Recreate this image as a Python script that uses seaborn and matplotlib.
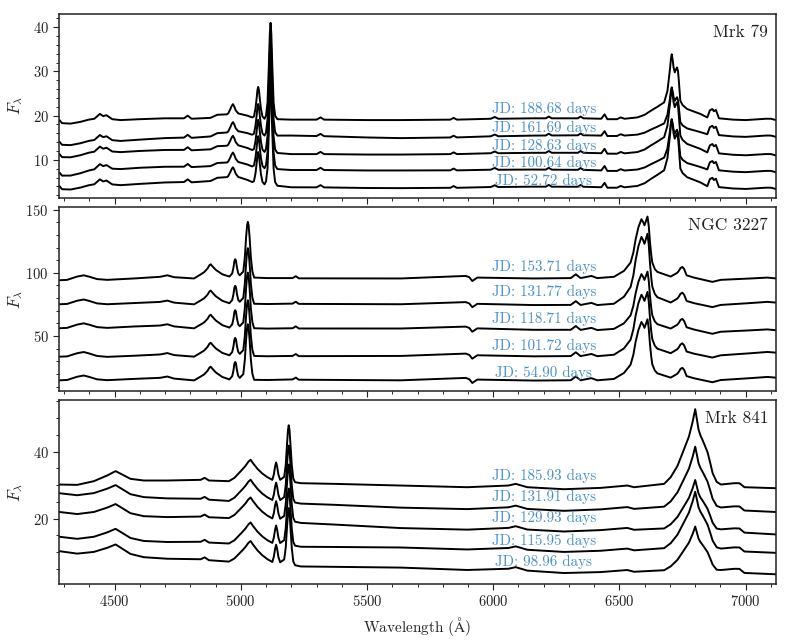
import numpy as np
import pandas as pd
import matplotlib
matplotlib.use("Agg")
import matplotlib.pyplot as plt
import seaborn as sns
from matplotlib.ticker import AutoMinorLocator, MultipleLocator

# ---------------- data ----------------
# --- Mrk 79: traced spectrum of the top epoch
mrk79_wl = [4282, 4292, 4326, 4365, 4398, 4420, 4442, 4455, 4468, 4491, 4524, 4600,
            4700, 4775, 4790, 4805, 4880, 4907, 4945, 4950, 4958, 4964, 4969, 4974,
            4980, 4990, 5026, 5045, 5052, 5058, 5063, 5066, 5069, 5072, 5075, 5080,
            5086, 5094, 5100, 5106, 5111, 5115, 5118, 5121, 5125, 5130, 5136, 5145,
            5200, 5300, 5316, 5330, 5500, 5633, 5830, 5843, 5856, 5990, 6006, 6020,
            6160, 6208, 6220, 6232, 6335, 6346, 6357, 6428, 6441, 6452, 6490, 6505,
            6520, 6571, 6600, 6624, 6650, 6677, 6690, 6700, 6704, 6707, 6711, 6714,
            6719, 6724, 6728, 6732, 6735, 6741, 6750, 6768, 6820, 6848, 6858, 6868,
            6874, 6882, 6894, 6950, 7000, 7080, 7100, 7120]
mrk79_top = [19.0, 18.3, 18.2, 18.6, 19.1, 19.3, 20.4, 19.9, 20.1, 19.2, 19.0, 19.2,
             19.4, 19.4, 20.0, 19.3, 19.5, 20.2, 20.3, 20.5, 21.4, 22.2, 22.6, 22.1,
             21.2, 20.5, 20.0, 19.6, 19.8, 21.5, 24.0, 25.8, 26.5, 25.8, 24.0, 21.5,
             19.8, 19.3, 20.0, 23.0, 31.0, 38.5, 41.0, 38.5, 31.0, 23.0, 20.0, 19.2,
             19.1, 19.1, 19.6, 19.1, 19.0, 19.0, 19.1, 19.5, 19.1, 19.3, 19.7, 19.3,
             19.4, 19.4, 19.8, 19.4, 19.4, 19.8, 19.4, 19.3, 20.3, 19.2, 19.2, 19.6,
             19.3, 19.6, 20.2, 21.1, 22.0, 23.0, 25.6, 30.5, 33.0, 33.9, 32.5, 31.0,
             29.8, 30.5, 30.9, 30.0, 28.0, 23.4, 22.4, 21.5, 20.4, 19.6, 21.2, 21.5,
             21.0, 21.3, 19.4, 19.1, 19.0, 19.3, 19.3, 19.0]
mrk79_anchor_wl = [4282, 4550, 4950, 5200, 5650, 6450, 7120]
mrk79_cont = [
    [18.9, 19.0, 20.2, 19.1, 19.0, 19.3, 19.0],
    [14.0, 14.3, 16.1, 15.5, 14.9, 15.5, 15.2],
    [11.2, 11.8, 13.1, 11.3, 11.2, 11.5, 11.0],
    [7.0, 8.0, 9.3, 7.7, 7.6, 7.6, 7.2],
    [3.95, 4.3, 6.0, 3.8, 3.6, 3.8, 3.4],
]
mrk79_ha_window = [6540, 6840]
mrk79_ha_scale = [1.0, 0.75, 1.0, 0.8, 1.05]
mrk79_epochs = ["188.68", "161.69", "128.63", "100.64", "52.72"]
mrk79_label_y = [21.6, 17.3, 13.2, 9.4, 5.3]

# --- NGC 3227
ngc_wl = [4282, 4312, 4352, 4378, 4398, 4431, 4471, 4577, 4680, 4709, 4736, 4815,
          4842, 4855, 4868, 4876, 4881, 4886, 4901, 4927, 4955, 4966, 4971, 4975,
          4978, 4981, 4985, 4990, 4996, 5010, 5016, 5021, 5025, 5028, 5031, 5035,
          5040, 5046, 5053, 5106, 5205, 5218, 5230, 5634, 5891, 5905, 5917, 5937,
          6161, 6307, 6327, 6346, 6389, 6412, 6478, 6518, 6544, 6555, 6564, 6575,
          6587, 6594, 6599, 6605, 6611, 6616, 6621, 6626, 6630, 6640, 6650, 6703,
          6729, 6735, 6742, 6749, 6756, 6766, 6795, 6868, 6901, 7020, 7086, 7120]
ngc_top = [94.1, 94.4, 97.0, 98.0, 97.0, 95.0, 94.4, 95.5, 96.8, 98.0, 96.5, 95.5,
           98.8, 100.5, 103.3, 106.0, 106.7, 105.5, 102.3, 98.8, 97.0, 99.5, 104.0, 109.5,
           110.7, 109.5, 104.0, 99.5, 98.0, 101.0, 112.0, 128.0, 137.5, 140.3, 137.5, 128.0,
           112.0, 101.0, 96.2, 95.8, 95.8, 97.3, 95.6, 95.5, 97.5, 96.5, 93.5, 96.2,
           95.5, 95.8, 98.8, 95.8, 97.5, 95.8, 96.8, 101.5, 108.1, 116.0, 126.5, 136.0,
           142.4, 140.0, 137.6, 141.0, 144.5, 137.0, 123.9, 114.0, 108.1, 103.0, 100.7, 97.0,
           100.0, 101.5, 103.8, 104.6, 103.0, 98.0, 96.2, 92.8, 94.4, 95.5, 96.2, 95.5]
ngc_anchor_wl = [4282, 4600, 4950, 5200, 5633, 6450, 7120]
ngc_cont = [
    [94.1, 95.5, 97.0, 95.8, 95.5, 96.5, 95.5],
    [75.1, 76.0, 75.9, 75.6, 75.1, 75.1, 76.4],
    [56.1, 57.5, 56.6, 56.1, 55.9, 55.3, 54.5],
    [33.6, 34.3, 34.7, 34.2, 34.2, 34.7, 36.8],
    [14.9, 16.0, 15.6, 15.6, 14.9, 15.6, 17.0],
]
ngc_ha_window = [6480, 6690]
ngc_ha_scale = [1.0, 1.15, 0.95, 1.03, 0.98]
ngc_epochs = ["153.71", "131.77", "118.71", "101.72", "54.90"]
ngc_label_y = [104.6, 84.8, 63.5, 42.1, 20.7]

# --- Mrk 841
mrk841_wl = [4282, 4352, 4418, 4471, 4504, 4530, 4563, 4616, 4709, 4841, 4857, 4874,
             4953, 4975, 4990, 5005, 5019, 5030, 5039, 5048, 5066, 5085, 5105, 5125,
             5131, 5136, 5140, 5144, 5149, 5156, 5172, 5178, 5183, 5187, 5190, 5193,
             5197, 5202, 5208, 5215, 5238, 5370, 5634, 5897, 6060, 6089, 6135, 6280,
             6426, 6531, 6558, 6677, 6703, 6730, 6756, 6775, 6790, 6800, 6806, 6813,
             6820, 6829, 6840, 6849, 6860, 6869, 6885, 6902, 6955, 6975, 6995, 7120]
mrk841_top = [30.2, 30.1, 31.2, 32.9, 34.2, 33.2, 31.9, 31.4, 31.4, 31.6, 32.2, 31.4,
              31.2, 32.2, 33.4, 34.6, 35.8, 37.0, 37.6, 36.6, 34.9, 33.5, 32.4, 31.6,
              33.2, 35.6, 36.8, 35.6, 33.2, 31.6, 32.5, 36.0, 42.0, 46.5, 47.9, 46.5,
              42.0, 36.0, 32.0, 30.9, 30.6, 30.4, 29.9, 29.4, 29.9, 30.4, 29.4, 28.8,
              29.2, 29.9, 29.4, 30.4, 32.4, 35.8, 40.8, 44.5, 49.0, 52.7, 50.0, 46.7,
              45.0, 43.5, 41.5, 39.8, 36.5, 33.6, 31.0, 30.2, 30.6, 30.6, 29.4, 29.1]
mrk841_anchor_wl = [4282, 4650, 4950, 5250, 5633, 6500, 7120]
mrk841_cont = [
    [30.2, 31.4, 31.2, 30.6, 29.9, 29.4, 29.1],
    [27.6, 26.2, 25.3, 24.5, 23.3, 23.0, 22.0],
    [22.0, 20.5, 20.2, 18.7, 17.2, 16.8, 15.3],
    [14.6, 13.1, 12.6, 11.6, 11.4, 10.6, 9.8],
    [10.3, 8.2, 7.2, 5.7, 5.4, 4.2, 3.4],
]
mrk841_ha_window = [6600, 6900]
mrk841_ha_scale = [1.0, 0.81, 0.66, 0.76, 0.59]
mrk841_epochs = ["185.93", "131.91", "129.93", "115.95", "98.96"]
mrk841_label_y = [32.9, 26.4, 20.1, 13.3, 7.1]

names = ["Mrk 79", "NGC 3227", "Mrk 841"]
ylims = [(1.4, 43.0), (6.5, 152.0), (0.5, 55.4)]
ymajor = [10, 50, 20]
xlim = (4280, 7120)
label_wl = 6200
# ------------------------------------------------------------------

sns.set_style("ticks")
plt.rcParams["font.family"] = ["cmr10", "DejaVu Serif"]
plt.rcParams["mathtext.fontset"] = "cm"
plt.rcParams["axes.formatter.use_mathtext"] = True
plt.rcParams["axes.unicode_minus"] = False


def build(wl, top, anchor_wl, conts, window, scales, epochs):
    wl = np.asarray(wl, float)
    top = np.asarray(top, float)
    c_top = np.interp(wl, anchor_wl, conts[0])
    line = top - c_top
    inwin = (wl >= window[0]) & (wl <= window[1])
    frames = []
    for k, ep in enumerate(epochs):
        c = np.interp(wl, anchor_wl, conts[k])
        w = np.where(inwin, scales[k], 1.0)
        frames.append(pd.DataFrame({"wl": wl, "flux": c + w * line, "epoch": ep}))
    return pd.concat(frames, ignore_index=True)


panels = [
    (build(mrk79_wl, mrk79_top, mrk79_anchor_wl, mrk79_cont, mrk79_ha_window,
           mrk79_ha_scale, mrk79_epochs), mrk79_epochs, mrk79_label_y),
    (build(ngc_wl, ngc_top, ngc_anchor_wl, ngc_cont, ngc_ha_window,
           ngc_ha_scale, ngc_epochs), ngc_epochs, ngc_label_y),
    (build(mrk841_wl, mrk841_top, mrk841_anchor_wl, mrk841_cont, mrk841_ha_window,
           mrk841_ha_scale, mrk841_epochs), mrk841_epochs, mrk841_label_y),
]

fig, axes = plt.subplots(3, 1, figsize=(7.9, 6.41), dpi=100, sharex=True)
fig.subplots_adjust(left=59 / 790, right=776 / 790, top=1 - 14 / 641,
                    bottom=1 - 584 / 641, hspace=0.05)

for i, (ax, (df, eps, ly)) in enumerate(zip(axes, panels)):
    sns.lineplot(data=df, x="wl", y="flux", units="epoch", estimator=None,
                 color="black", lw=1.4, sort=False, ax=ax, legend=False)
    for ep, yy in zip(eps, ly):
        ax.text(label_wl, yy, f"JD: {ep} days", color="#4a90cc", fontsize=10.8,
                ha="center", va="center")
    ax.text(0.989, 0.877, names[i], transform=ax.transAxes, ha="right",
            va="baseline", fontsize=12.5, color="#222222")
    ax.set_xlim(*xlim)
    ax.set_ylim(*ylims[i])
    ax.yaxis.set_major_locator(MultipleLocator(ymajor[i]))
    ax.yaxis.set_minor_locator(AutoMinorLocator())
    ax.xaxis.set_major_locator(MultipleLocator(500))
    ax.xaxis.set_minor_locator(AutoMinorLocator())
    ax.tick_params(which="major", length=4, width=0.8, labelsize=10.5,
                   colors="#222222", direction="out")
    ax.tick_params(which="minor", length=2.2, width=0.7, direction="out")
    for s in ax.spines.values():
        s.set_visible(True)
        s.set_linewidth(1.1)
        s.set_color("#222222")
    ax.set_ylabel(r"$F_\lambda$", fontsize=12)
    ax.yaxis.set_label_coords(-0.048, 0.5)
    ax.set_xlabel("")

axes[2].set_xlabel(r"Wavelength ($\mathrm{\AA}$)", fontsize=11)

fig.savefig("out.png", dpi=100)
